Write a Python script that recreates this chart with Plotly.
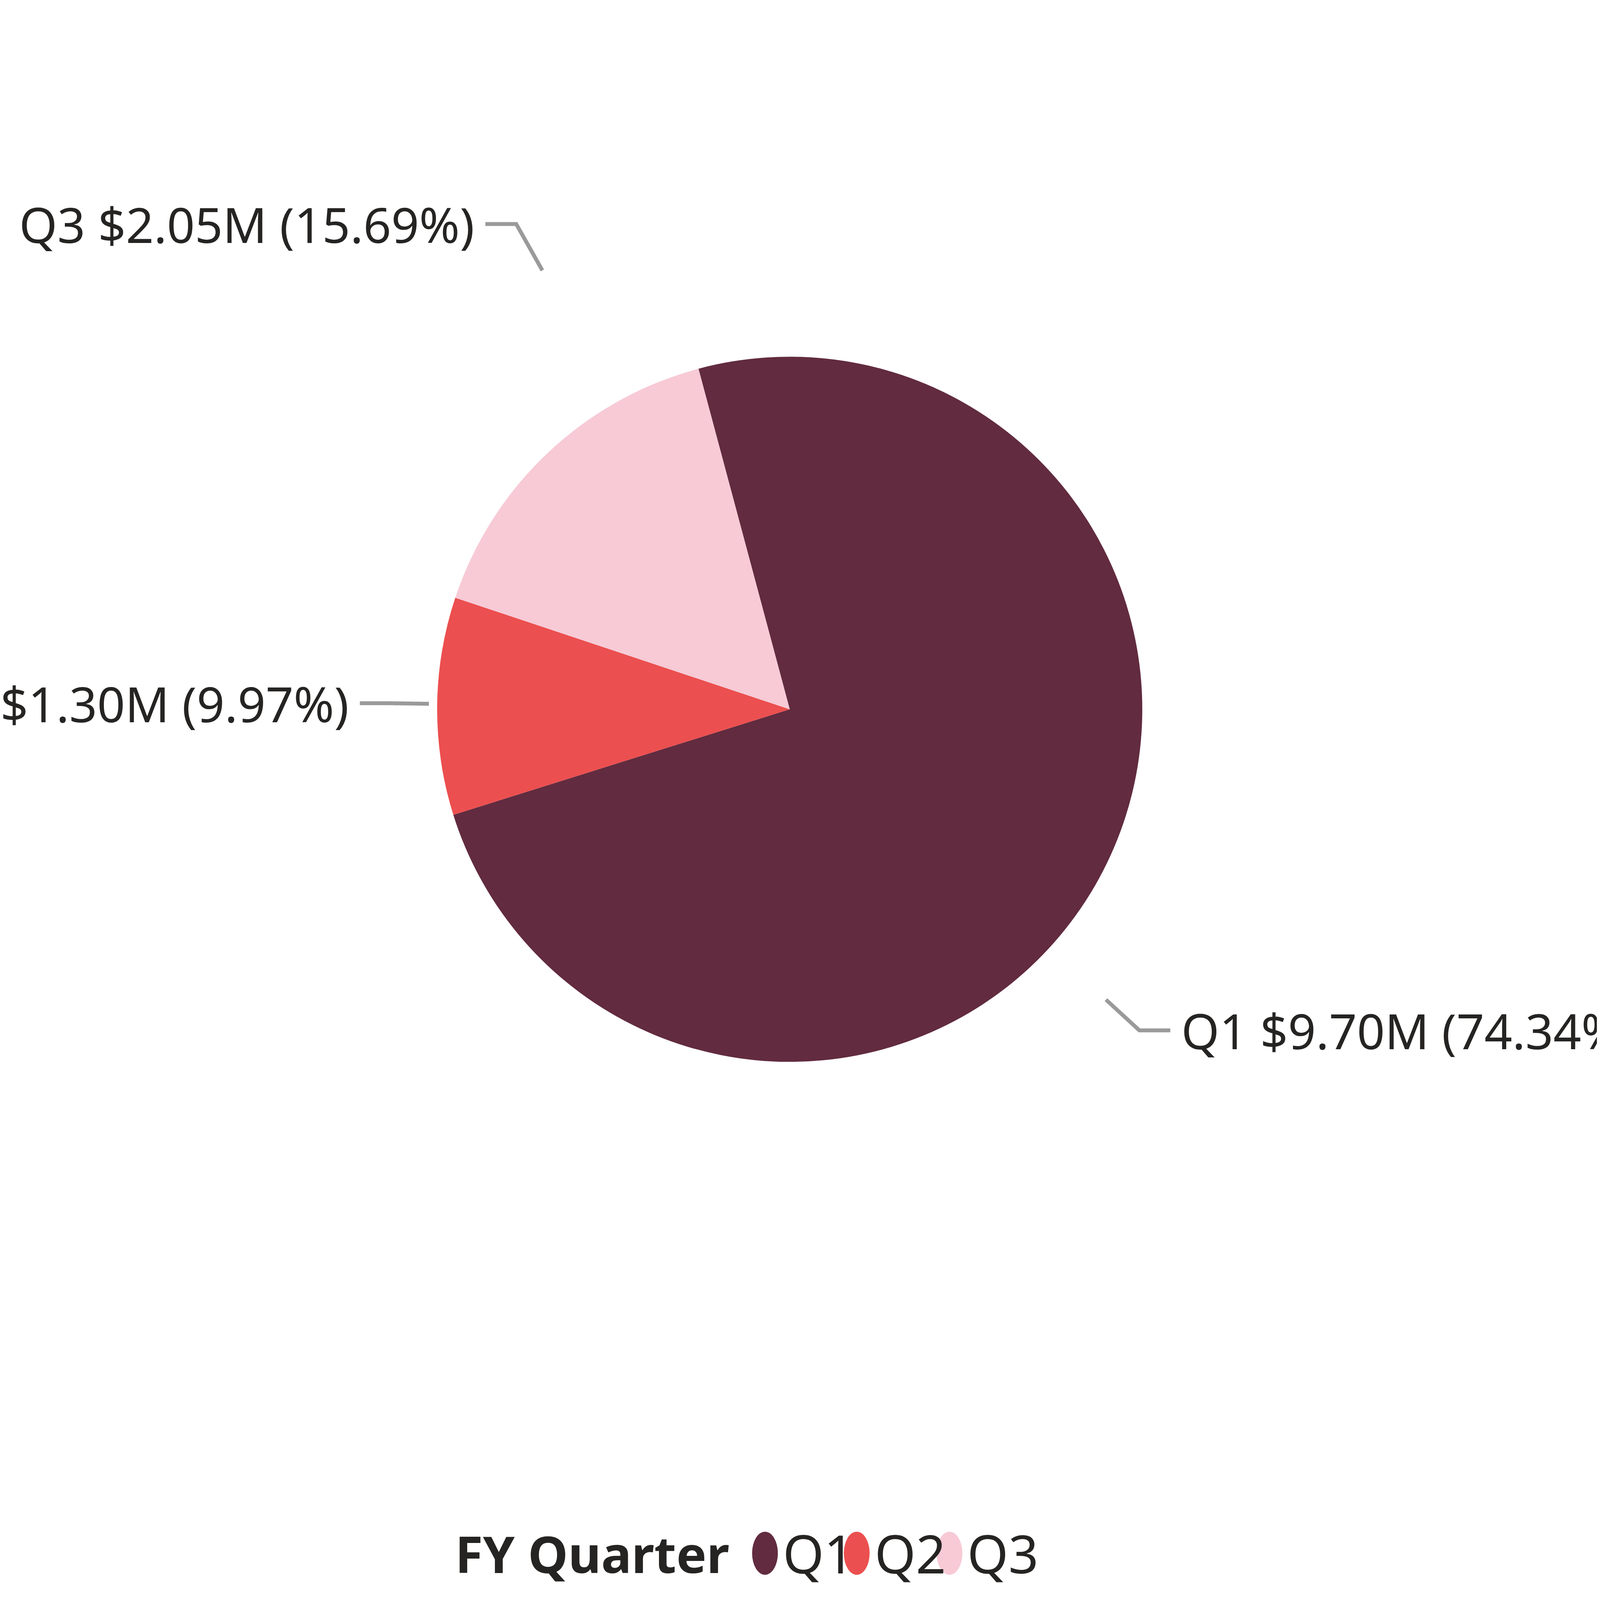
import math
import plotly.graph_objects as go

quarters = ["Q1", "Q2", "Q3"]
values = [9.70, 1.30, 2.05]
percents = [74.34, 9.97, 15.69]
colors = ["#622B3F", "#EC4F4F", "#F7CAD6"]
legend_title = "FY Quarter"

W, H = 7777, 4655
S = W / 1552.0
DH = H / S
FONT = "Noto Sans"
TXT = "#252423"

def px(x): return x / 1552.0
def py(y): return 1 - y / DH

cx, cy, r = 763, 410, 342
rotation = -15
fig = go.Figure()
fig.add_trace(go.Pie(labels=quarters, values=values, marker=dict(colors=colors),
                     sort=False, direction="clockwise", rotation=rotation,
                     textinfo="none", showlegend=False, hoverinfo="label+value+percent",
                     domain=dict(x=[px(cx - r), px(cx + r)], y=[py(cy + r), py(cy - r)])))

shapes, ann = [], []
total = sum(values)
start = rotation
for q, v, p in zip(quarters, values, percents):
    span = v / total * 360
    mid = math.radians(start + span / 2)
    start += span
    dx, dy = math.sin(mid), -math.cos(mid)
    x1, y1 = cx + (r + 8) * dx, cy + (r + 8) * dy
    x2, y2 = cx + (r + 45) * dx, cy + (r + 45) * dy
    side = 1 if dx >= 0 else -1
    x3 = x2 + side * 30
    shapes.append(dict(type="path", xref="paper", yref="paper",
                       path=f"M {px(x1)} {py(y1)} L {px(x2)} {py(y2)} L {px(x3)} {py(y2)}",
                       line=dict(color="#9A9A9A", width=10)))
    ann.append(dict(x=px(x3 + side * 10), y=py(y2), xref="paper", yref="paper",
                    text=f"{q} ${v:.2f}M ({p:.2f}%)", showarrow=False,
                    xanchor="left" if side > 0 else "right", yanchor="middle",
                    font=dict(family=FONT, size=125, color=TXT)))

# legend
ly = 900
ann.append(dict(x=px(705), y=py(ly), xref="paper", yref="paper", text=f"<b>{legend_title}</b>",
                showarrow=False, xanchor="right", yanchor="middle",
                font=dict(family=FONT, size=130, color=TXT)))
for q, c, lx in zip(quarters, colors, [739, 828, 918]):
    rr = 12.5
    shapes.append(dict(type="circle", xref="paper", yref="paper",
                       x0=px(lx - rr), x1=px(lx + rr), y0=py(ly + rr), y1=py(ly - rr),
                       fillcolor=c, line=dict(width=0)))
    ann.append(dict(x=px(lx + rr + 4), y=py(ly), xref="paper", yref="paper", text=q,
                    showarrow=False, xanchor="left", yanchor="middle",
                    font=dict(family=FONT, size=135, color=TXT)))

fig.update_layout(autosize=True, margin=dict(l=0, r=0, t=0, b=0),
                  paper_bgcolor="white", plot_bgcolor="white",
                  shapes=shapes, annotations=ann)
fig.write_html("out.html", config=dict(responsive=True), default_width="100vw", default_height="100vh")
